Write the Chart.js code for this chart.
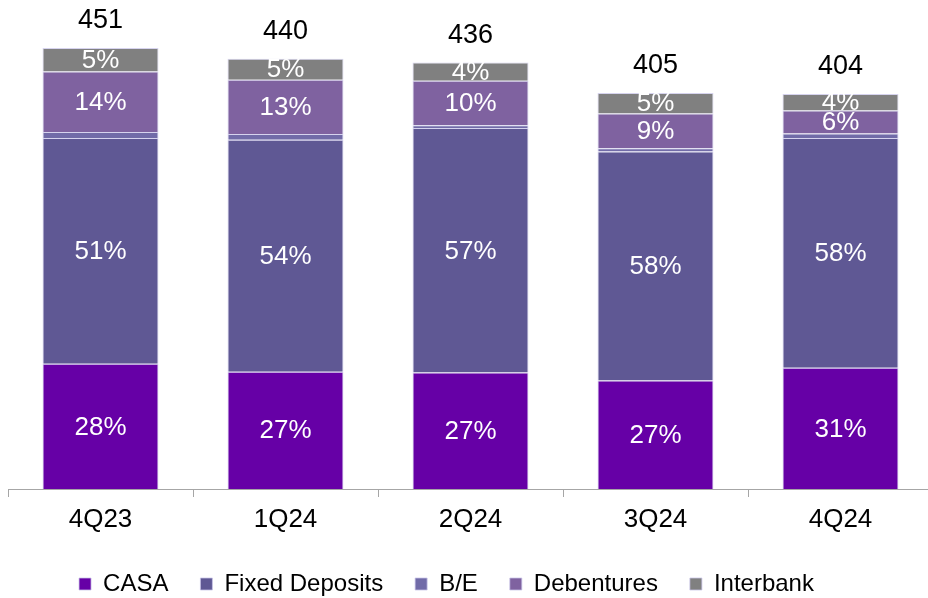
<!DOCTYPE html>
<html>
<head>
<meta charset="utf-8">
<script src="https://cdn.jsdelivr.net/npm/chart.js@4.4.1/dist/chart.umd.min.js"></script>
<style>
  html, body { margin: 0; padding: 0; background: #fff; overflow: hidden; }
  #wrap { width: 941px; height: 598px; }
</style>
</head>
<body>
<div id="wrap"><canvas id="myChart" width="941" height="598"></canvas></div>
<script>
// funding mix per quarter (absolute amounts)
const quarters = ['4Q23', '1Q24', '2Q24', '3Q24', '4Q24'];
const casa = [128, 120, 119, 111, 124];
const fixedDeposits = [231, 237, 250, 234, 235];
const billsExchange = [6, 6, 3, 3.5, 4.5];
const debentures = [62, 55.5, 45.5, 35.5, 23.5];
const interbank = [24, 21.5, 18.5, 21, 17];

const FONT = '"Liberation Sans", Arial, sans-serif';

const totals = quarters.map((q, i) =>
    casa[i] + fixedDeposits[i] + billsExchange[i] + debentures[i] + interbank[i]);

// segment percentages + totals on top
const labelPlugin = {
    id: 'labels',
    afterDatasetsDraw(chart) {
        const ctx = chart.ctx;
        ctx.save();
        ctx.textAlign = 'center';
        ctx.textBaseline = 'middle';
        ctx.font = '26px ' + FONT;
        chart.data.datasets.forEach((ds, d) => {
            if (ds.label === 'B/E') return;
            chart.getDatasetMeta(d).data.forEach((bar, i) => {
                const pct = Math.round(ds.data[i] / totals[i] * 100);
                ctx.fillStyle = '#ffffff';
                ctx.fillText(pct + '%', bar.x, (bar.y + bar.base) / 2 + 1);
            });
        });
        ctx.font = '27px ' + FONT;
        const last = chart.getDatasetMeta(chart.data.datasets.length - 1);
        last.data.forEach((bar, i) => {
            ctx.fillStyle = '#000000';
            ctx.fillText(Math.round(totals[i]), bar.x, bar.y - 27);
        });
        ctx.restore();
    },
    beforeDraw(chart) {
        // nudge the legend a bit left like the original
        const lg = chart.legend;
        if (lg && !lg._shifted) {
            const draw = lg.draw.bind(lg);
            lg.draw = function (area) {
                chart.ctx.save();
                chart.ctx.translate(-24, 0);
                draw(area);
                chart.ctx.restore();
            };
            lg._shifted = true;
        }
    }
};

const ctx = document.getElementById('myChart').getContext('2d');
const myChart = new Chart(ctx, {
    type: 'bar',
    data: {
        labels: quarters,
        datasets: [
            { label: 'CASA', data: casa, backgroundColor: '#6600A6' },
            { label: 'Fixed Deposits', data: fixedDeposits, backgroundColor: '#5F5894' },
            { label: 'B/E', data: billsExchange, backgroundColor: '#716BA8' },
            { label: 'Debentures', data: debentures, backgroundColor: '#7F62A0' },
            { label: 'Interbank', data: interbank, backgroundColor: '#808080' }
        ].map(ds => Object.assign(ds, {
            borderColor: 'rgba(200,196,232,0.75)',
            borderWidth: 1,
            barPercentage: 0.627,
            categoryPercentage: 1
        }))
    },
    options: {
        responsive: false,
        animation: false,
        devicePixelRatio: 1,
        layout: { padding: { left: 8, right: 8, top: 0, bottom: 0 } },
        plugins: {
            tooltip: { enabled: false },
            legend: {
                position: 'bottom',
                maxHeight: 58,
                labels: {
                    boxWidth: 12,
                    boxHeight: 12,
                    padding: 32,
                    color: '#000',
                    font: { family: FONT, size: 24 }
                }
            }
        },
        scales: {
            x: {
                stacked: true,
                afterFit(scale) { scale.height = 51; },
                border: { display: true, color: '#a6a6a6', width: 1 },
                grid: {
                    offset: true,
                    drawOnChartArea: false,
                    drawTicks: true,
                    tickLength: 8,
                    color: '#a6a6a6'
                },
                ticks: {
                    padding: 7,
                    color: '#000',
                    font: { family: FONT, size: 26 }
                }
            },
            y: {
                stacked: true,
                display: false,
                min: 0,
                max: 500
            }
        }
    },
    plugins: [labelPlugin]
});
</script>
</body>
</html>
